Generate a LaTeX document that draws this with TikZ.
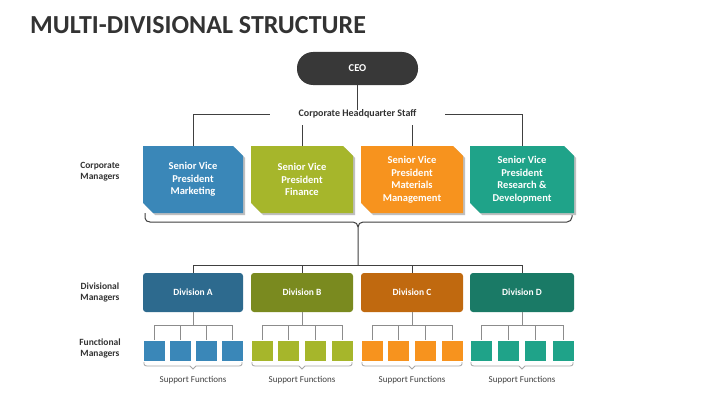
\documentclass[tikz,border=0pt]{standalone}
\usepackage{fontspec}
\setmainfont{Carlito}
\begin{document}
\begin{tikzpicture}[x=1pt,y=-1pt,
  ln/.style={draw=black!75,line width=1pt},
  sq/.style={draw=white,line width=0.6pt,minimum width=22pt,minimum height=21pt,inner sep=0},
  lbl/.style={font=\bfseries\fontsize{9.5}{11}\selectfont,text=black!80,align=center},
  svp/.style={font=\bfseries\fontsize{10.5}{12.5}\selectfont,text=white,align=center},
  dv/.style={rounded corners=3pt,minimum height=39pt,inner sep=0,font=\bfseries\fontsize{9.5}{10}\selectfont,text=white},
  sf/.style={font=\fontsize{9}{10}\selectfont,text=black!75}]
\definecolor{cA}{HTML}{3A87B8}\definecolor{dA}{HTML}{2D6A8E}
\definecolor{cB}{HTML}{A6B62B}\definecolor{dB}{HTML}{7A8A1F}
\definecolor{cC}{HTML}{F7931E}\definecolor{dC}{HTML}{C0690F}
\definecolor{cD}{HTML}{1FA389}\definecolor{dD}{HTML}{1A7A66}
\useasboundingbox (0,0) rectangle (720,404);
\fill[white] (0,0) rectangle (720,404);
\node[anchor=west,inner sep=0,font=\bfseries\fontsize{26}{28}\selectfont,text=black!80] (title) at (30,25) {MULTI-DIVISIONAL STRUCTURE};
\node[fill=black!78,rounded corners=16pt,minimum width=121pt,minimum height=33pt,text=white,font=\bfseries\fontsize{10.5}{12}\selectfont] (ceo) at (357.5,68.5) {CEO};
\node[font=\bfseries\fontsize{10}{11}\selectfont,text=black!80,inner sep=0pt] (hq) at (357.5,114) {Corporate Headquarter Staff};
\draw[ln] (ceo) -- (hq.north);
\coordinate (hl) at (193,114); \coordinate (hr) at (522,114);
\coordinate (gl) at (270,114); \coordinate (gr) at (445,114);
\draw[ln] (hl) -- (gl); \draw[ln] (gr) -- (hr);
\node[lbl] (l1) at (100,172) {Corporate\\Managers};
\node[lbl] (l2) at (100,292) {Divisional\\Managers};
\node[lbl] (l3) at (100,348) {Functional\\Managers};
\coordinate (dl) at (193,265); \coordinate (dr) at (522,265);
\draw[ln] (dl) -- (dr);
\draw[ln] (145,213) -- (145,218) to[out=-90,in=180] (150,222) -- (353,222) to[out=0,in=90] (358,227) -- (358,265);
\draw[ln] (358,227) to[out=90,in=180] (363,222) -- (567,222) to[out=0,in=-90] (572,217) -- (572,213);
\foreach \i/\x/\w/\c/\t/\d/\ty in {1/143/100/A/{Senior Vice\\President\\Marketing}/{Division A}/114,2/251/102/B/{Senior Vice\\President\\Finance}/{Division B}/125,3/361/102/C/{Senior Vice\\President\\Materials\\Management}/{Division C}/125,4/470/104/D/{Senior Vice\\President\\Research \&\\Development}/{Division D}/114}{
  \pgfmathsetmacro\cx{\x+\w/2}
  \fill[black!25] (\x+2,148) -- (\x+\w-10+2,148) -- (\x+\w+2,158) -- (\x+\w+2,215) -- (\x+12,215) -- (\x+2,205) -- cycle;
  \fill[c\c] (\x,146) -- (\x+\w-10,146) -- (\x+\w,156) -- (\x+\w,213) -- (\x+10,213) -- (\x,203) -- cycle;
  \node[svp] (s\i) at (\cx,179.5) {\t};
  \draw[ln] (\cx,\ty) -- (\cx,146);
  \node[dv,fill=d\c,minimum width=\w pt] (d\i) at (\cx,292.5) {\d};
  \draw[ln] (\cx,265) -- (d\i.north);
  \foreach \k in {0,1,2,3}{
    \pgfmathsetmacro\sx{\x+11+\k*(\w-22)/3}
    \node[sq,fill=c\c] (q\i\k) at (\sx,350.5) {};
    \draw[draw=black!45,line width=0.8pt] (\sx,325) -- (q\i\k.north);
  }
  \draw[draw=black!45,line width=0.8pt] (d\i.south) -- (\cx,325);
  \draw[draw=black!45,line width=0.8pt] (q\i0.north|-0,325) -- (q\i3.north|-0,325);
  \draw[draw=black!35,line width=0.8pt] (\x+1,362) -- (\x+1,364) to[out=-90,in=180] (\x+4,366) -- (\cx-3,366) -- (\cx,369) -- (\cx+3,366) -- (\x+\w-4,366) to[out=0,in=-90] (\x+\w-1,364) -- (\x+\w-1,362);
  \node[sf] (f\i) at (\cx,380) {Support Functions};
}
\end{tikzpicture}
\end{document}
